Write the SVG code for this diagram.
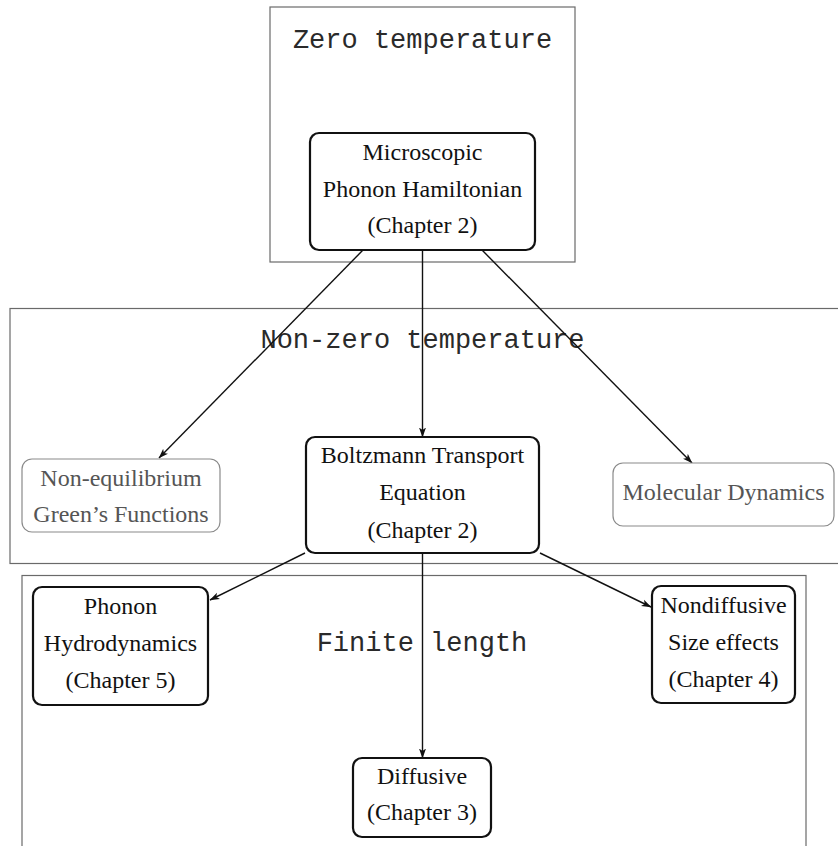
<svg xmlns="http://www.w3.org/2000/svg" width="838" height="846" viewBox="0 0 838 846">
<defs>
<style>
.frame{fill:none;stroke:#6a6a6a;stroke-width:1.2}
.node{fill:#fff;stroke:#111;stroke-width:2.2}
.soft{fill:#fff;stroke:#8a8a8a;stroke-width:1.2}
.t{font-family:"Liberation Serif","Times New Roman",serif;font-size:24px;fill:#111;text-anchor:middle}
.g{fill:#555}
.title{font-family:"Liberation Mono","Courier New",monospace;font-size:27px;fill:#2a2a2a;text-anchor:middle}
.edge{fill:none;stroke:#111;stroke-width:1.4;marker-end:url(#arr)}
</style>
<marker id="arr" viewBox="0 0 10 8" refX="9.5" refY="4" markerWidth="10" markerHeight="8" markerUnits="userSpaceOnUse" orient="auto">
<path d="M0,0.5 L10,4 L0,7.5 L2.5,4 z" fill="#111"/>
</marker>
</defs>
<rect width="838" height="846" fill="#fff"/>

<g id="region-zero">
<rect class="frame" x="270" y="7" width="305" height="255"/>
<text class="title" x="422.5" y="48">Zero temperature</text>
</g>
<g id="region-nonzero">
<rect class="frame" x="10" y="308.5" width="850" height="255"/>
<text class="title" x="422.5" y="348">Non-zero temperature</text>
</g>
<g id="region-finite">
<rect class="frame" x="22" y="575.5" width="784" height="300"/>
<text class="title" x="422" y="651">Finite length</text>
</g>

<g id="connectors">
<line class="edge" x1="363" y1="250" x2="159" y2="458"/>
<line class="edge" x1="422.5" y1="250" x2="422.5" y2="437"/>
<line class="edge" x1="482" y1="250" x2="692" y2="463"/>
<line class="edge" x1="305" y1="553" x2="210" y2="600"/>
<line class="edge" x1="422.5" y1="553" x2="422.5" y2="758"/>
<line class="edge" x1="540" y1="553" x2="651" y2="607"/>
</g>

<g id="microscopic">
<rect class="node" x="310" y="133" width="225" height="117" rx="9"/>
<text class="t" x="422.5" y="160">Microscopic</text>
<text class="t" x="422.5" y="197">Phonon Hamiltonian</text>
<text class="t" x="422.5" y="233">(Chapter 2)</text>
</g>
<g id="negf">
<rect class="soft" x="22" y="459" width="198" height="73" rx="10"/>
<text class="t g" x="121" y="486">Non-equilibrium</text>
<text class="t g" x="121" y="522">Green’s Functions</text>
</g>
<g id="bte">
<rect class="node" x="306" y="437" width="233" height="116" rx="9"/>
<text class="t" x="422.5" y="463">Boltzmann Transport</text>
<text class="t" x="422.5" y="500">Equation</text>
<text class="t" x="422.5" y="538">(Chapter 2)</text>
</g>
<g id="md">
<rect class="soft" x="613" y="463" width="221" height="63" rx="10"/>
<text class="t g" x="723.5" y="500">Molecular Dynamics</text>
</g>
<g id="hydro">
<rect class="node" x="33" y="587" width="175" height="118" rx="9"/>
<text class="t" x="120.5" y="614">Phonon</text>
<text class="t" x="120.5" y="651">Hydrodynamics</text>
<text class="t" x="120.5" y="688">(Chapter 5)</text>
</g>
<g id="nondiffusive">
<rect class="node" x="652" y="586" width="143" height="117" rx="9"/>
<text class="t" x="723.5" y="613">Nondiffusive</text>
<text class="t" x="723.5" y="650">Size effects</text>
<text class="t" x="723.5" y="687">(Chapter 4)</text>
</g>
<g id="diffusive">
<rect class="node" x="353" y="758" width="138" height="79" rx="9"/>
<text class="t" x="422" y="784">Diffusive</text>
<text class="t" x="422" y="820">(Chapter 3)</text>
</g>
</svg>
